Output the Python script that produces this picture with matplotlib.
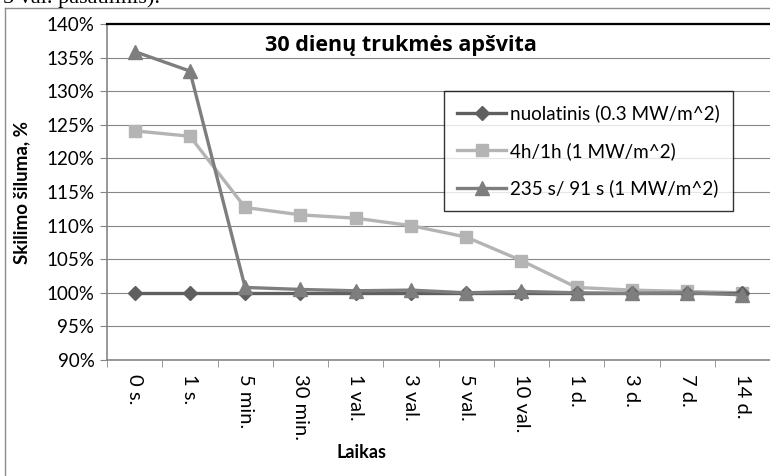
import numpy as np
import matplotlib.pyplot as plt

plt.rcParams['font.family'] = ['Lato', 'DejaVu Sans']

# duomenys
laikas = ['0 s.', '1 s.', '5 min.', '30 min.', '1 val.', '3 val.', '5 val.',
          '10 val.', '1 d.', '3 d.', '7 d.', '14 d.']
nuolatinis = [100.0, 100.0, 100.0, 100.0, 100.0, 100.0, 100.0, 100.0, 100.0, 100.0, 100.0, 100.0]
h4_1h = [124.1, 123.3, 112.7, 111.6, 111.1, 110.0, 108.3, 104.8, 100.8, 100.4, 100.2, 100.0]
s235_91 = [135.9, 133.0, 100.8, 100.5, 100.3, 100.4, 100.0, 100.2, 100.0, 99.9, 100.0, 99.7]
yticks = list(range(90, 141, 5))

fig = plt.figure(figsize=(7.7, 4.76), dpi=100)
ax = fig.add_axes([107 / 770, 1 - 360 / 476, 1 - 107 / 770, (360 - 24) / 476])

x = np.arange(len(laikas))
ax.plot(x, nuolatinis, color='#5f5f5f', lw=2.4, marker='D', ms=7, label='nuolatinis (0.3 MW/m^2)', zorder=3)
ax.plot(x, h4_1h, color='#b4b4b4', lw=2.4, marker='s', ms=9, label='4h/1h (1 MW/m^2)', zorder=2)
ax.plot(x, s235_91, color='#7e7e7e', lw=2.4, marker='^', ms=10, label='235 s/ 91 s (1 MW/m^2)', zorder=4)

ax.set_xlim(-0.5, len(laikas) - 0.5)
ax.set_ylim(90, 140)
ax.set_yticks(yticks)
ax.set_yticklabels([f'{v}%' for v in yticks], fontsize=13.5)
ax.set_xticks(x)
ax.set_xticklabels(laikas, rotation=270, fontsize=14.5, va='top', ha='center')
ax.set_xticks(np.arange(-0.5, len(laikas)), minor=True)
ax.tick_params(axis='x', which='major', length=0, pad=10)
ax.tick_params(axis='x', which='minor', length=5, color='#868686')
ax.tick_params(axis='y', length=5, color='#868686', pad=4)

ax.grid(axis='y', color='#868686', lw=0.8)
ax.set_axisbelow(True)
for s in ['left', 'bottom']:
    ax.spines[s].set_color('#868686')
    ax.spines[s].set_linewidth(1.2)
ax.spines['right'].set_visible(False)
ax.spines['top'].set_color('black')
ax.spines['top'].set_linewidth(1.6)

fig.text(401 / 770, 1 - 46 / 476, '30 dienų trukmės apšvita', family=['Open Sans', 'DejaVu Sans'],
         fontsize=15.5, fontweight='bold', ha='center', va='center')
fig.text(22 / 770, 1 - 193 / 476, 'Skilimo šiluma, %', fontsize=13.5, fontweight='bold',
         rotation=90, ha='center', va='center')
fig.text(362 / 770, 1 - 452 / 476, 'Laikas', fontsize=13, fontweight='bold', ha='center', va='center')

leg = ax.legend(loc='upper left', bbox_to_anchor=((444 - 107) / 663, 1 - (91 - 24) / 336),
                borderaxespad=0, fontsize=13.6, frameon=True, fancybox=False, edgecolor='black',
                handlelength=2.6, labelspacing=1.05, borderpad=0.7, handletextpad=0.2)
leg.get_frame().set_linewidth(1.0)

# rėmelis ir nukirptas teksto fragmentas viršuje
fig.add_artist(plt.Line2D([5 / 770, 5 / 770], [0, 1 - 8 / 476], color='#8c8c8c', lw=1.0))
fig.add_artist(plt.Line2D([5 / 770, 1], [1 - 8 / 476, 1 - 8 / 476], color='#8c8c8c', lw=1.0))
fig.text(3 / 770, 1 - 3.5 / 476, '5 val. pasaulinis).', family='Liberation Serif',
         fontsize=16, va='baseline', ha='left')

fig.savefig('out.png', dpi=100)
